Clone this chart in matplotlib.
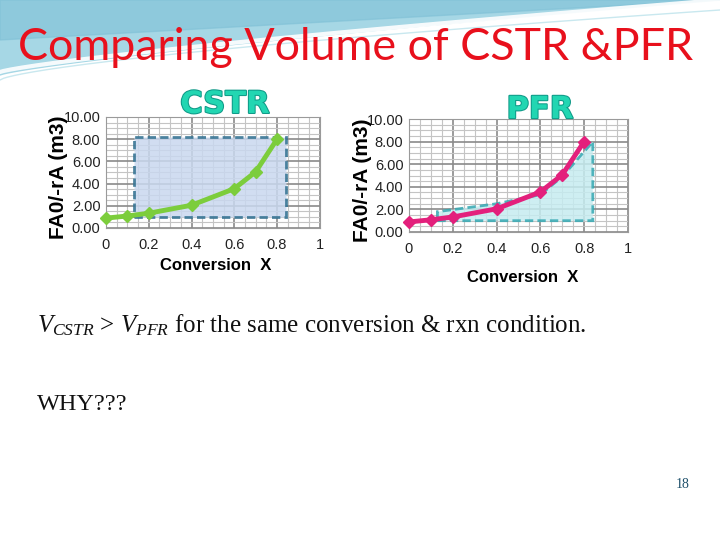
import numpy as np
import matplotlib.pyplot as plt
from matplotlib.ticker import MultipleLocator, FormatStrFormatter
from matplotlib.patches import Polygon
import matplotlib.patheffects as pe

# data (Levenspiel plot, FA0/-rA vs conversion)
conv = [0.0, 0.1, 0.2, 0.4, 0.6, 0.7, 0.8]
fa0_ra = [0.89, 1.08, 1.33, 2.05, 3.54, 5.06, 8.0]

# shaded volume areas
cstr_x = [0.13, 0.84, 0.84, 0.13]
cstr_y = [1.0, 1.0, 8.2, 8.2]
pfr_x = [0.13, 0.84, 0.84, 0.70, 0.60, 0.40, 0.13]
pfr_y = [1.0, 1.0, 8.0, 4.9, 3.3, 2.5, 1.8]

plt.rcParams['mathtext.fontset'] = 'custom'
plt.rcParams['mathtext.rm'] = 'Liberation Serif'
plt.rcParams['mathtext.it'] = 'Liberation Serif:italic'

fig = plt.figure(figsize=(7.2, 5.4), dpi=100)

# slide background
bg = fig.add_axes([0, 0, 1, 1], zorder=-10)
bg.set_xlim(0, 720)
bg.set_ylim(540, 0)
bg.axis("off")
xs = np.linspace(0, 720, 200)
bg.fill_between(xs, 0, 75 - 75 * (xs / 720) ** 0.8, color="#a6d7e5")
bg.fill_between(xs, 0, 40 - 40 * (xs / 720), color="#7fc0d6", alpha=0.6)
bg.plot(xs, 72 - 72 * (xs / 720) ** 0.8, color="white", lw=3, alpha=0.9)
bg.plot(xs, 80 - 70 * (xs / 720) ** 0.7, color="#c9e8ef", lw=1)

fig.text(0.025, 0.912, "Comparing Volume of CSTR &PFR", color="#e8101c",
         fontsize=32.3, family="Lato", va="center", ha="left")


def draw_chart(rect, color, title, title_x, title_y, xlab_x, fill_poly,
               fill_col, edge_col, xlab_y, ylab_x):
    ax = fig.add_axes(rect)
    ax.set_xlim(0, 1)
    ax.set_ylim(0, 10)
    ax.xaxis.set_major_locator(MultipleLocator(0.2))
    ax.xaxis.set_minor_locator(MultipleLocator(0.05))
    ax.yaxis.set_major_locator(MultipleLocator(2))
    ax.yaxis.set_minor_locator(MultipleLocator(0.5))
    ax.yaxis.set_major_formatter(FormatStrFormatter("%.2f"))
    ax.xaxis.set_major_formatter(plt.FuncFormatter(lambda v, p: f"{v:g}"))
    ax.grid(which="minor", color="#c4c4c4", lw=0.8)
    ax.grid(which="major", color="#8a8a8a", lw=1.2)
    ax.set_axisbelow(True)
    for s in ax.spines.values():
        s.set_color("#9a9a9a")
    ax.tick_params(which="both", length=0, labelsize=10.5, colors="#222222")
    ax.tick_params(axis="x", pad=7)
    ax.tick_params(axis="y", pad=4)
    for lab in ax.get_xticklabels() + ax.get_yticklabels():
        lab.set_family("Liberation Sans")
    ax.add_patch(Polygon(np.column_stack(fill_poly), closed=True,
                         facecolor=fill_col, edgecolor=edge_col, lw=2,
                         ls=(0, (3, 1.5)), alpha=0.85, zorder=2))
    ax.plot(conv, fa0_ra, color=color, lw=3.5, marker="D", ms=6, zorder=3,
            clip_on=False)
    ax.set_ylabel("FA0/-rA (m3)", fontsize=15, fontweight="bold",
                  family="Liberation Sans")
    ax.yaxis.set_label_coords(ylab_x, 0.46)
    fig.text(xlab_x, xlab_y, "Conversion  X", fontsize=12, fontweight="bold",
             family="Liberation Sans", ha="center")
    t = ax.text(title_x, title_y, title, transform=ax.transAxes, fontsize=22,
                fontweight="heavy", color="#22d6b2", ha="center",
                va="baseline", family="DejaVu Sans")
    t.set_path_effects([pe.withStroke(linewidth=1.5, foreground="#109a88")])
    return ax


draw_chart([0.1472, 0.5778, 0.297, 0.2056], "#7ccd3c", "CSTR", 0.556, 1.036,
           0.30, (cstr_x, cstr_y), "#c9d8ef", "#2f6f8f", 0.5, -0.178)
draw_chart([0.568, 0.5704, 0.304, 0.209], "#e3207c", "PFR", 0.598, 1.009,
           0.726, (pfr_x, pfr_y), "#c6ecf0", "#35a8b2", 0.477, -0.169)

fig.text(0.051, 0.397, r"$V_{CSTR}$ > $V_{PFR}$ for the same conversion & rxn condition.",
         fontsize=18, family="Liberation Serif", va="center", color="#111111")
fig.text(0.051, 0.25, "WHY???", fontsize=17.5, family="Liberation Serif",
         va="center", color="#111111")
fig.text(0.948, 0.102, "18", fontsize=10, family="Liberation Serif",
         color="#1d4f6a", ha="center", va="center")

fig.savefig("out.png", dpi=100)
